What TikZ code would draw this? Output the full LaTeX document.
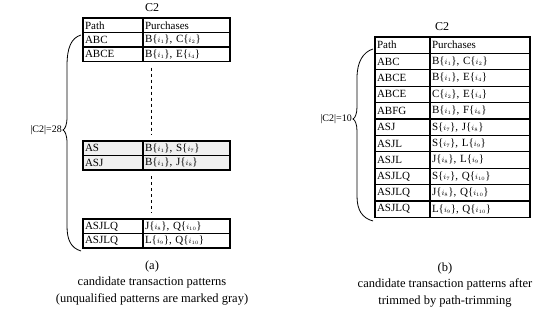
\documentclass[tikz,border=0pt]{standalone}
\usepackage{fontspec}
\setmainfont{Liberation Serif}
\usetikzlibrary{positioning,calc}
\newcommand{\itm}[2]{#1\{$\scriptstyle i_{#2}$\}}
\tikzstyle{cell} = [draw, line width=1.1pt, rectangle, outer sep=0pt,
    inner xsep=2pt, inner ysep=0pt, align=left,
    font=\fontsize{11}{11}\selectfont]
\tikzstyle{pathcell} = [cell, text width=56pt, minimum height=14.5pt]
\tikzstyle{buycell} = [cell, text width=83pt, minimum height=14.5pt]
\tikzstyle{rpathcell} = [cell, text width=51pt, minimum height=16.4pt]
\tikzstyle{rbuycell} = [cell, text width=96pt, minimum height=16.4pt]
\tikzstyle{unq} = [fill=gray!12]
\tikzstyle{title} = [font=\fontsize{12}{12}\selectfont]
\tikzstyle{captext} = [align=center, font=\fontsize{12.5}{16.5}\selectfont]
\tikzstyle{bracepath} = [line width=0.8pt]
\begin{document}
\begin{tikzpicture}[x=1pt, y=-1pt]
    \useasboundingbox (0,0) rectangle (553,324);
    % left table, first block
    \node [title] (ltitle) at (152,8) {C2};
    \node [pathcell, anchor=north west] (l0p) at (83,18) {Path};
    \node [buycell, right=0pt of l0p] (l0b) {Purchases};
    \node [pathcell, below=0pt of l0p] (l1p) {ABC};
    \node [buycell, right=0pt of l1p] (l1b) {\itm B1, \itm C2};
    \node [pathcell, below=0pt of l1p] (l2p) {ABCE};
    \node [buycell, right=0pt of l2p] (l2b) {\itm B1, \itm E4};
    % second block (unqualified)
    \node [pathcell, unq, anchor=north west] (l3p) at (83,141) {AS};
    \node [buycell, unq, right=0pt of l3p] (l3b) {\itm B1, \itm S7};
    \node [pathcell, unq, below=0pt of l3p] (l4p) {ASJ};
    \node [buycell, unq, right=0pt of l4p] (l4b) {\itm B1, \itm J8};
    % third block
    \node [pathcell, anchor=north west] (l5p) at (83,219) {ASJLQ};
    \node [buycell, right=0pt of l5p] (l5b) {\itm J8, \itm Q{10}};
    \node [pathcell, below=0pt of l5p] (l6p) {ASJLQ};
    \node [buycell, right=0pt of l6p] (l6b) {\itm L9, \itm Q{10}};

    % omitted rows
    \draw [dashed, line width=1pt] ($(l2b.south west)+(8,6)$) -- ($(l3b.north west)+(8,-6)$);
    \draw [dashed, line width=1pt] ($(l4b.south west)+(8,6)$) -- ($(l5b.north west)+(8,-6)$);

    % left brace
    \coordinate (lbtop) at (81,35);
    \coordinate (lbtip) at (63,130);
    \coordinate (lbbot) at (81,251);
    \draw [bracepath] (lbtop) .. controls (71,38) and (67,48) .. (67,66)
        -- (67,117) .. controls (67,125) and (65,129) .. (lbtip)
        .. controls (65,131) and (67,135) .. (67,143)
        -- (67,226) .. controls (67,240) and (71,248) .. (lbbot);
    \node [anchor=east, inner sep=1pt, font=\fontsize{10}{10}\selectfont] (lsize) at (lbtip) {|C2|=28};

    \node [captext] (lcap) at (152,283) {(a)\\candidate transaction patterns\\(unqualified patterns are marked gray)};

    % right table
    \node [title] (rtitle) at (442,27) {C2};
    \node [rpathcell, anchor=north west] (r0p) at (375,37) {Path};
    \node [rbuycell, right=0pt of r0p] (r0b) {Purchases};
    \foreach \pth/\buy [count=\k from 1] in {
        ABC/{\itm B1, \itm C2}, ABCE/{\itm B1, \itm E4},
        ABCE/{\itm C2, \itm E4}, ABFG/{\itm B1, \itm F6},
        ASJ/{\itm S7, \itm J8}, ASJL/{\itm S7, \itm L9},
        ASJL/{\itm J8, \itm L9}, ASJLQ/{\itm S7, \itm Q{10}},
        ASJLQ/{\itm J8, \itm Q{10}}, ASJLQ/{\itm L9, \itm Q{10}}} {
        \pgfmathtruncatemacro{\prev}{\k-1}
        \node [rpathcell, below=0pt of r\prev p] (r\k p) {\pth};
        \node [rbuycell, right=0pt of r\k p] (r\k b) {\buy};
    }

    % right brace
    \coordinate (rbtop) at (373,49);
    \coordinate (rbtip) at (353,119);
    \coordinate (rbbot) at (373,221);
    \draw [bracepath] (rbtop) .. controls (363,52) and (357,62) .. (357,78)
        -- (357,107) .. controls (357,114) and (355,118) .. (rbtip)
        .. controls (355,120) and (357,124) .. (357,131)
        -- (357,196) .. controls (357,210) and (362,218) .. (rbbot);
    \node [anchor=east, inner sep=1pt, font=\fontsize{10}{10}\selectfont] (rsize) at (rbtip) {|C2|=10};

    \node [captext] (rcap) at (445,285) {(b)\\candidate transaction patterns after\\trimmed by path-trimming};
\end{tikzpicture}
\end{document}
